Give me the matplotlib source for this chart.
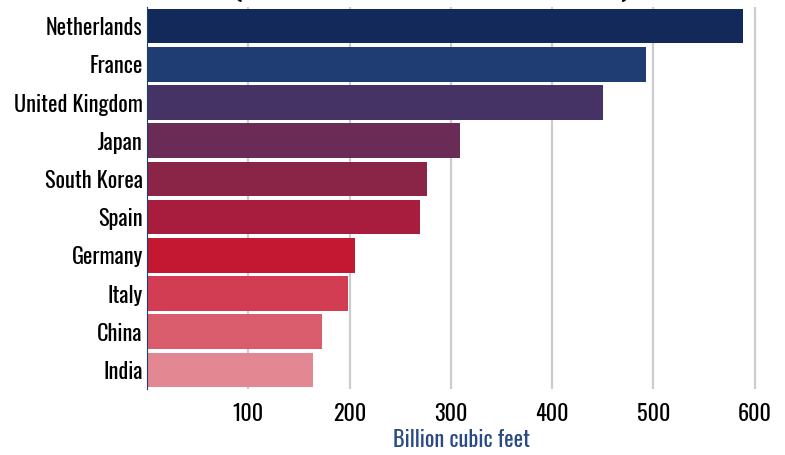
import matplotlib
matplotlib.use("Agg")
import matplotlib.pyplot as plt

countries = ["Netherlands", "France", "United Kingdom", "Japan", "South Korea",
             "Spain", "Germany", "Italy", "China", "India"]
volumes = [588, 493, 450, 309, 276, 269, 205, 198, 173, 164]
bar_colors = ["#13295a", "#1f3c73", "#463366", "#6a2c57", "#8a2548",
              "#a81d3e", "#c41731", "#d23d53", "#da5d6e", "#e38893"]
x_ticks = [100, 200, 300, 400, 500, 600]

plt.rcParams["font.family"] = ["Oswald", "DejaVu Sans"]

fig = plt.figure(figsize=(7.85, 4.55), dpi=100)
ax = fig.add_axes([0.1873, 0.145, 0.80, 0.8396])

y = list(range(len(countries)))
ax.barh(y, volumes, height=0.91, color=bar_colors, zorder=2)

ax.set_ylim(len(countries) - 0.5, -0.5)
ax.set_xlim(0, 620)
ax.set_yticks(y)
ax.set_yticklabels(countries, fontsize=16)
ax.set_xticks(x_ticks)
ax.set_xticklabels([str(t) for t in x_ticks], fontsize=16)
ax.tick_params(length=0, pad=3)
ax.tick_params(axis="x", pad=10)

ax.xaxis.grid(True, color="#cccccc", linewidth=1.6, zorder=0)
ax.set_axisbelow(True)
for side in ["top", "right", "bottom"]:
    ax.spines[side].set_visible(False)
ax.spines["left"].set_color("#1f3c73")
ax.spines["left"].set_linewidth(0.8)

ax.set_xlabel("Billion cubic feet", fontsize=16, color="#2a4a85", labelpad=3)

# title sits above the canvas, only the tails of its descenders show
fig.text(0.549, 1 + 5 / 455, "(Ten largest LNG markets in 2021)", ha="center",
         va="baseline", fontsize=23)

fig.savefig("out.png", dpi=100)
